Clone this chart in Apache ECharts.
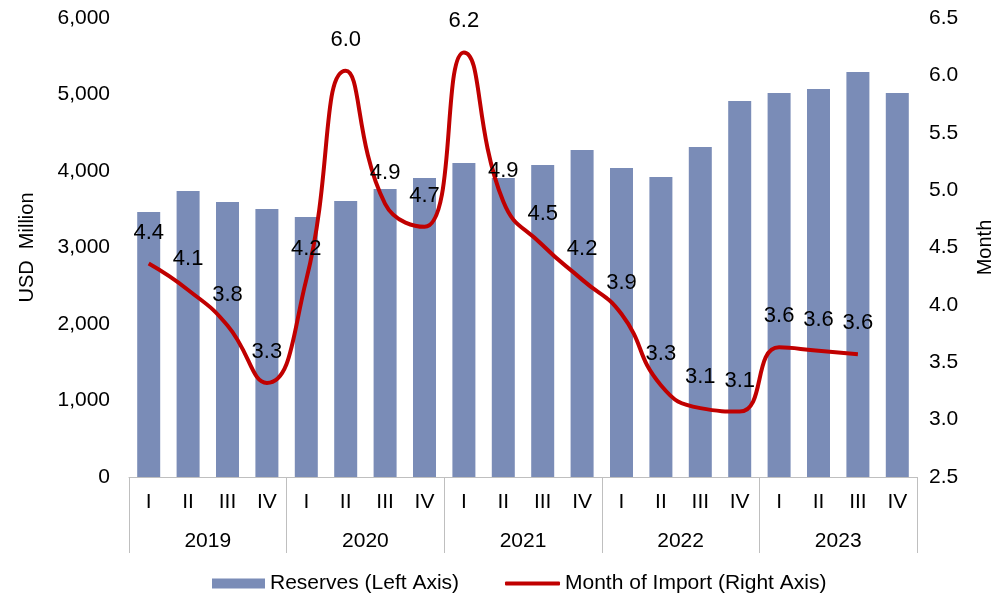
<!DOCTYPE html>
<html>
<head>
<meta charset="utf-8">
<script src="https://cdn.jsdelivr.net/npm/echarts@6/dist/echarts.min.js"></script>
<style>
  html, body { margin: 0; padding: 0; background: #fff; }
  #chart { width: 995px; height: 600px; }
</style>
</head>
<body>
<div id="chart"></div>
<script>
var quarters = ['I', 'II', 'III', 'IV', 'I', 'II', 'III', 'IV', 'I', 'II', 'III', 'IV', 'I', 'II', 'III', 'IV', 'I', 'II', 'III', 'IV'];
var years = ['2019', '2020', '2021', '2022', '2023'];
var reserves = [3464, 3739, 3595, 3503, 3399, 3608, 3765, 3908, 4105, 3908, 4078, 4275, 4039, 3922, 4314, 4915, 5020, 5072, 5294, 5020];
var monthOfImport = [4.36, 4.13, 3.82, 3.32, 4.22, 6.04, 4.88, 4.68, 6.2, 4.9, 4.52, 4.22, 3.92, 3.3, 3.1, 3.07, 3.63, 3.6, 3.57];

var font = 'Liberation Sans';
var gray = '#bfbfbf';

var chart = echarts.init(document.getElementById('chart'));

var legendText = { fontFamily: font, fontSize: 21, color: '#000' };

var option = {
  textStyle: { fontFamily: font },
  animation: false,
  grid: { left: 129, right: 78, top: 18, bottom: 123, outerBoundsMode: 'none', containLabel: false },
  legend: [
    {
      bottom: 1,
      left: 207,
      itemWidth: 53,
      itemHeight: 10,
      textStyle: legendText,
      data: [{ name: 'Reserves (Left Axis)', icon: 'rect' }]
    },
    {
      bottom: 1,
      left: 500,
      itemWidth: 55,
      itemHeight: 4,
      textStyle: legendText,
      data: [{ name: 'Month of Import (Right Axis)', icon: 'roundRect' }]
    }
  ],
  xAxis: [
    {
      type: 'category',
      data: quarters,
      offset: 0,
      axisLine: { show: true, lineStyle: { color: gray, width: 1 } },
      axisTick: { show: false },
      axisLabel: { color: '#000', fontSize: 21, margin: 15 }
    },
    {
      type: 'category',
      data: years,
      position: 'bottom',
      offset: 0,
      axisLine: { show: false },
      axisTick: { show: true, length: 76, lineStyle: { color: gray, width: 1 } },
      axisLabel: { color: '#000', fontSize: 21, margin: 54 }
    }
  ],
  yAxis: [
    {
      type: 'value',
      min: 0,
      max: 6000,
      interval: 1000,
      name: 'USD  Million',
      nameLocation: 'middle',
      nameGap: 92,
      nameRotate: 90,
      nameTextStyle: { fontSize: 20, color: '#000' },
      axisLine: { show: false },
      axisTick: { show: false },
      splitLine: { show: false },
      axisLabel: { color: '#000', fontSize: 21, margin: 19 }
    },
    {
      type: 'value',
      min: 2.5,
      max: 6.5,
      interval: 0.5,
      name: 'Month',
      nameLocation: 'middle',
      nameGap: 58,
      nameRotate: 90,
      nameTextStyle: { fontSize: 20, color: '#000' },
      axisLine: { show: false },
      axisTick: { show: false },
      splitLine: { show: false },
      axisLabel: {
        color: '#000',
        fontSize: 21,
        margin: 12,
        formatter: function (v) { return v.toFixed(1); }
      }
    }
  ],
  series: [
    {
      name: 'Reserves (Left Axis)',
      type: 'bar',
      xAxisIndex: 0,
      yAxisIndex: 0,
      barWidth: 23,
      itemStyle: { color: '#7a8cb7' },
      data: reserves
    },
    {
      name: 'Month of Import (Right Axis)',
      type: 'line',
      xAxisIndex: 0,
      yAxisIndex: 1,
      smooth: 0.5,
      symbol: 'circle',
      symbolSize: 0.1,
      showAllSymbol: true,
      lineStyle: { color: '#c00000', width: 4 },
      itemStyle: { color: '#c00000' },
      label: {
        show: true,
        position: 'top',
        distance: 20,
        fontSize: 22,
        color: '#000',
        formatter: function (p) { return p.value.toFixed(1); }
      },
      data: monthOfImport
    }
  ]
};

chart.setOption(option);
</script>
</body>
</html>
